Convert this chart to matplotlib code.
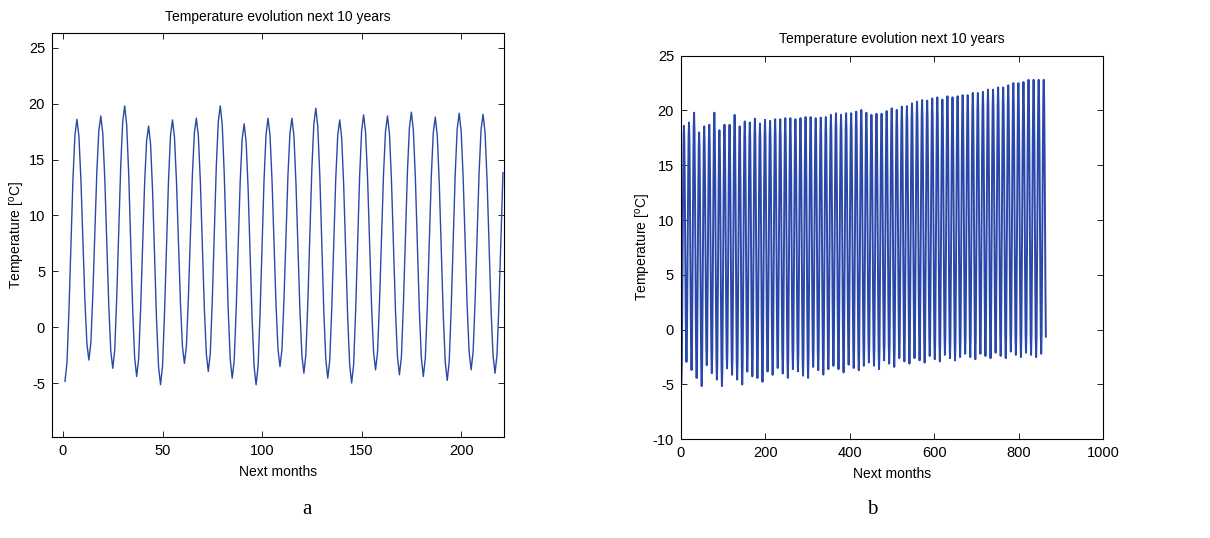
import numpy as np
from matplotlib import pyplot as plt

# yearly extremes: July highs and January lows [deg C]
july_highs = [18.6, 18.9, 19.8, 18.0, 18.55, 18.7, 19.8, 18.2, 18.7, 18.7,
              19.6, 18.55, 19.0, 18.9, 19.25, 18.8, 19.15, 19.05, 19.2, 19.2,
              19.3, 19.3, 19.2, 19.3, 19.4, 19.4, 19.3, 19.35, 19.4, 19.6,
              19.75, 19.6, 19.75, 19.75, 19.9, 20.05, 19.8, 19.6, 19.7, 19.7,
              19.95, 20.2, 20.05, 20.35, 20.4, 20.65, 20.8, 20.95, 20.9, 21.1,
              21.2, 21.0, 21.3, 21.2, 21.3, 21.4, 21.4, 21.6, 21.6, 21.7,
              21.9, 21.9, 22.1, 22.1, 22.3, 22.5, 22.5, 22.6, 22.8, 22.8,
              22.8, 22.8]
january_lows = [-4.85, -2.94, -3.68, -4.41, -5.15, -3.24, -3.97, -4.56, -5.15, -3.53,
                -4.12, -4.56, -5.0, -3.82, -4.26, -4.41, -4.76, -3.82, -4.12, -3.5,
                -4.0, -4.4, -3.6, -3.8, -4.2, -4.4, -3.4, -3.7, -4.1, -3.6,
                -3.3, -3.6, -3.9, -3.2, -3.5, -3.7, -3.3, -3.0, -3.3, -3.6,
                -2.8, -3.1, -3.4, -2.6, -2.9, -3.1, -2.6, -2.8, -3.0, -2.4,
                -2.7, -2.9, -2.3, -2.6, -2.8, -2.5, -2.2, -2.5, -2.7, -2.2,
                -2.4, -2.6, -2.1, -2.4, -2.6, -2.0, -2.3, -2.5, -2.1, -2.3,
                -2.5, -2.2, -2.4]

rise_jan_jun = [0.0, 0.07, 0.27, 0.52, 0.77, 0.94]
fall_jul_dec = [1.0, 0.93, 0.75, 0.5, 0.25, 0.07]

months_short = 221
months_long = 864

BLUE = '#2a48aa'
TITLE = 'Temperature evolution next 10 years'
FS = 10


def monthly_series():
    values = []
    for k, hi in enumerate(july_highs):
        lo, nxt = january_lows[k], january_lows[k + 1]
        values.extend(lo + f * (hi - lo) for f in rise_jan_jun)
        values.extend(nxt + f * (hi - nxt) for f in fall_jul_dec)
    return np.array(values)


def style_axes(ax, ypad):
    ax.set_title(TITLE, fontsize=FS, pad=9)
    ax.set_xlabel('Next months', fontsize=FS, labelpad=5)
    ax.set_ylabel('Temperature [$^o$C]', fontsize=FS, labelpad=ypad)
    ax.tick_params(direction='in', length=4, width=0.6, top=True, right=True,
                   labelsize=10.5, pad=5)
    for s in ax.spines.values():
        s.set_linewidth(0.8)


plt.rcParams['font.family'] = ['Liberation Sans', 'DejaVu Sans']
plt.rcParams['mathtext.default'] = 'regular'
plt.rcParams['axes.unicode_minus'] = False

temps = monthly_series()

fig = plt.figure(figsize=(12.1, 5.38), dpi=100)

ax1 = fig.add_axes([0.043, 0.1883, 0.3735, 0.7498])
m1 = np.arange(1, months_short + 1)
ax1.plot(m1, temps[:months_short], color=BLUE, lw=1.0)
ax1.set_xlim(-5.5, 221.5)
ax1.set_ylim(-9.8, 26.3)
ax1.set_xticks([0, 50, 100, 150, 200])
ax1.set_yticks([-5, 0, 5, 10, 15, 20, 25])
style_axes(ax1, 1)

ax2 = fig.add_axes([0.5628, 0.1835, 0.349, 0.713])
m2 = np.arange(1, months_long + 1)
ax2.plot(m2, temps[:months_long], color=BLUE, lw=1.4)
ax2.set_xlim(0, 1000)
ax2.set_ylim(-10, 25)
ax2.set_xticks([0, 200, 400, 600, 800, 1000])
ax2.set_yticks([-10, -5, 0, 5, 10, 15, 20, 25])
style_axes(ax2, 0)

fig.text(307 / 1210, 1 - 510 / 538, 'a', ha='center', va='center',
         fontsize=15, family='Liberation Serif')
fig.text(872 / 1210, 1 - 510 / 538, 'b', ha='center', va='center',
         fontsize=15, family='Liberation Serif')

fig.savefig('out.png', dpi=100)
